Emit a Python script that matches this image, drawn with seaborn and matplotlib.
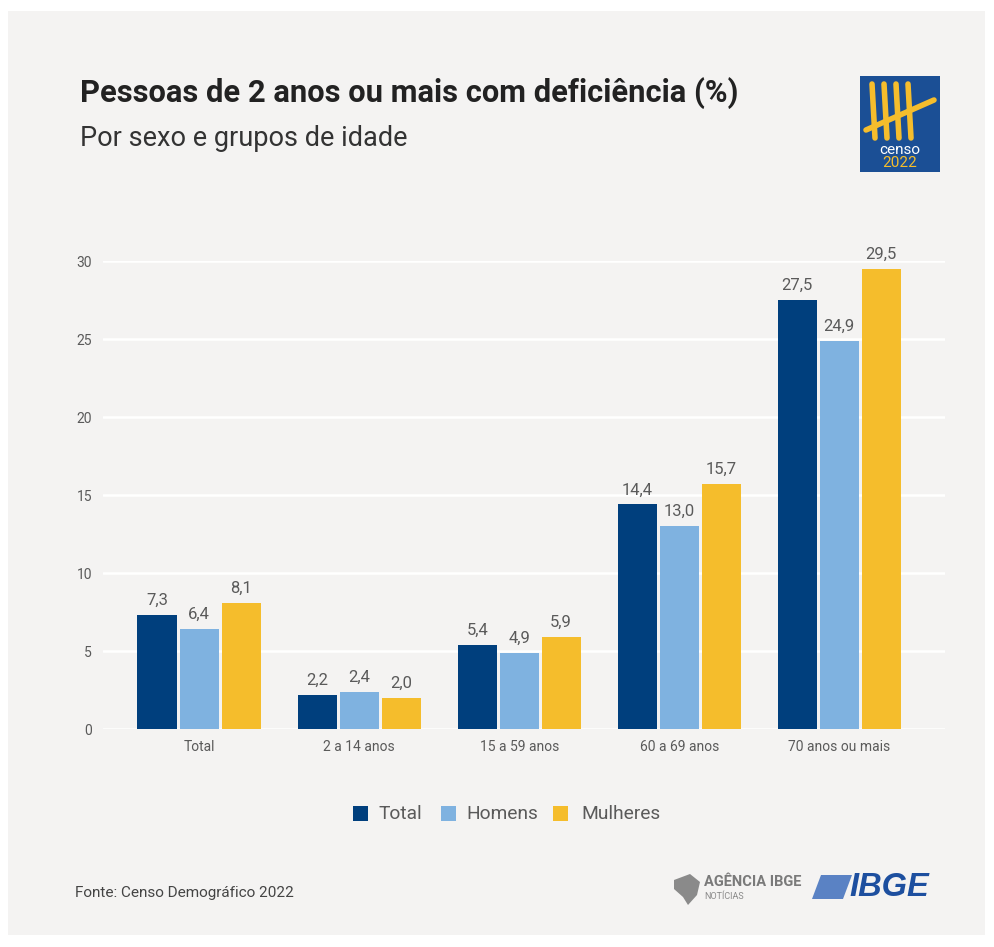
import matplotlib
matplotlib.use("Agg")
import matplotlib.pyplot as plt
import seaborn as sns
import pandas as pd
from matplotlib.patches import Rectangle, Polygon
from matplotlib.lines import Line2D

# ---- data ----
grupos = ["Total", "2 a 14 anos", "15 a 59 anos", "60 a 69 anos", "70 anos ou mais"]
series = ["Total", "Homens", "Mulheres"]
total = [7.3, 2.2, 5.4, 14.4, 27.5]
homens = [6.4, 2.4, 4.9, 13.0, 24.9]
mulheres = [8.1, 2.0, 5.9, 15.7, 29.5]
yticks = [0, 5, 10, 15, 20, 25, 30]

title = "Pessoas de 2 anos ou mais com deficiência (%)"
subtitle = "Por sexo e grupos de idade"
fonte = "Fonte: Censo Demográfico 2022"

colors = ["#003f7d", "#7fb2e0", "#f5bd2c"]
BG = "#f4f3f2"

rows = []
for s, vals in zip(series, [total, homens, mulheres]):
    for g, v in zip(grupos, vals):
        rows.append({"grupo": g, "serie": s, "valor": v})
df = pd.DataFrame(rows)

sns.set_theme(style="white")
COND = ["Liberation Sans Narrow", "Roboto", "DejaVu Sans"]
plt.rcParams["font.family"] = COND

W, H = 994, 947
fig = plt.figure(figsize=(W / 100, H / 100), dpi=100, facecolor="white")

def fx(px):
    return px / W

def fy(py):
    return 1 - py / H

# card background
fig.patches.append(Rectangle((fx(8), fy(935)), fx(985) - fx(8), fy(11) - fy(935),
                             transform=fig.transFigure, facecolor=BG, edgecolor="none", zorder=-10))

ax = fig.add_axes([fx(103), fy(729), fx(945) - fx(103), fy(261) - fy(729)])
ax.set_facecolor("none")

sns.barplot(data=df, x="grupo", y="valor", hue="serie", order=grupos, hue_order=series,
            palette=colors, saturation=1, width=0.7875, gap=0.07, edgecolor="none",
            linewidth=0, ax=ax, legend=False, zorder=3)

ax.set_ylim(0, 30)
ax.set_xlim(-0.6, 4.66)
ax.set_yticks(yticks)
ax.set_yticklabels([str(t) for t in yticks])
ax.grid(axis="y", color="white", linewidth=1.8, zorder=0)
ax.grid(axis="x", visible=False)
ax.set_axisbelow(True)
for sp in ax.spines.values():
    sp.set_visible(False)
ax.tick_params(axis="both", length=0, colors="#5a5a5a", labelsize=10)
ax.tick_params(axis="y", pad=8)
ax.tick_params(axis="x", pad=8)
ax.set_xlabel("")
ax.set_ylabel("")

for cont in ax.containers:
    labels = [f"{v:.1f}".replace(".", ",") for v in cont.datavalues]
    ax.bar_label(cont, labels=labels, padding=5, fontsize=12, color="#5a5a5a")

# titles
fig.text(fx(80), fy(93), title, fontsize=22.2, fontweight="bold", color="#222222",
         va="center", ha="left")
fig.text(fx(80), fy(138), subtitle, fontsize=19.5, color="#333333", va="center", ha="left")

# legend (manual, figure-level)
leg_items = [(353, 378, "Total"), (441, 466, "Homens"), (553, 581, "Mulheres")]
for (sx, tx, lab), c in zip(leg_items, colors):
    fig.patches.append(Rectangle((fx(sx), fy(821)), fx(15), 15 / H, transform=fig.transFigure,
                                 facecolor=c, edgecolor="none"))
    fig.text(fx(tx), fy(814), lab, fontsize=13.8, color="#5a5a5a", va="center", ha="left",
             family=["Roboto", "DejaVu Sans"])

# footer
fig.text(fx(75), fy(893), fonte, fontsize=11, color="#444444", va="center", ha="left")

# Agência IBGE logo (approximation)
fig.patches.append(Polygon([(fx(674), fy(880)), (fx(690), fy(874)), (fx(700), fy(882)),
                            (fx(697), fy(895)), (fx(688), fy(905)), (fx(683), fy(897)),
                            (fx(674), fy(889))], closed=True, transform=fig.transFigure,
                           facecolor="#8a8a8a", edgecolor="none"))
fig.text(fx(704), fy(882), "AGÊNCIA IBGE", fontsize=10.5, fontweight="bold", color="#7a7a7a",
         va="center", ha="left")
fig.text(fx(704), fy(896), "NOTÍCIAS", fontsize=6.5, color="#8a8a8a", va="center", ha="left")

# IBGE logo (approximation)
fig.patches.append(Polygon([(fx(812), fy(899)), (fx(821), fy(875)), (fx(852), fy(875)),
                            (fx(843), fy(899))], closed=True, transform=fig.transFigure,
                           facecolor="#5a82c4", edgecolor="none"))
fig.text(fx(849), fy(887), "IBGE", fontsize=23.5, fontweight="bold", fontstyle="italic",
         color="#1d4f9f", va="center", ha="left", family=["Liberation Sans", "DejaVu Sans"])

# Censo 2022 logo (approximation)
fig.patches.append(Rectangle((fx(860), fy(172)), fx(80), 96 / H, transform=fig.transFigure,
                             facecolor="#1b4f95", edgecolor="none"))
for xx in [872, 884, 896, 908]:
    fig.add_artist(Line2D([fx(xx), fx(xx + 3)], [fy(84), fy(138)], transform=fig.transFigure,
                          color="#f5bd2c", linewidth=4, solid_capstyle="round"))
fig.add_artist(Line2D([fx(866), fx(934)], [fy(130), fy(100)], transform=fig.transFigure,
                      color="#f5bd2c", linewidth=4, solid_capstyle="round"))
fig.text(fx(900), fy(150), "censo", fontsize=11, color="white", va="center", ha="center",
         family=["Roboto", "DejaVu Sans"])
fig.text(fx(900), fy(163), "2022", fontsize=11, color="#f5bd2c", va="center", ha="center",
         family=["Roboto", "DejaVu Sans"])

fig.savefig("out.png", dpi=100, facecolor="white")
